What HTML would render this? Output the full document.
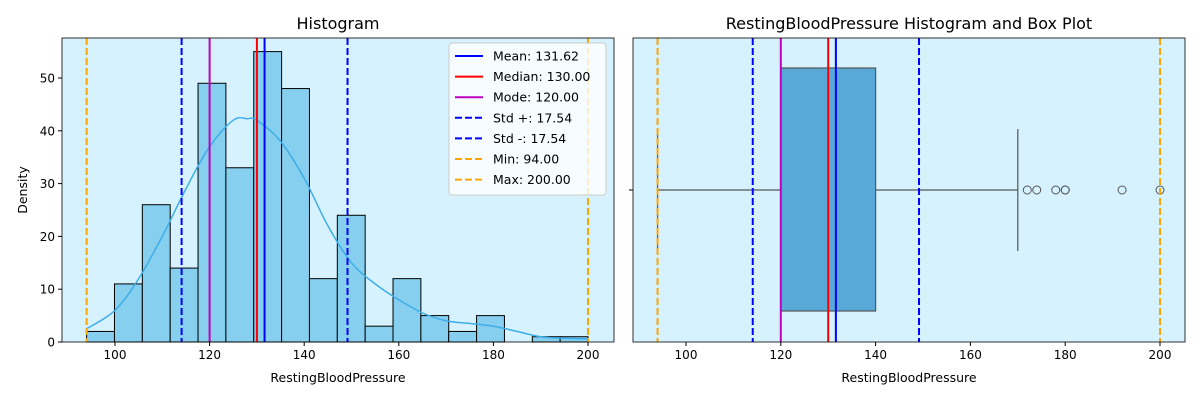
<!DOCTYPE html>
<html><head><meta charset="utf-8">
<style>
body{margin:0;background:#fff;}
svg{font-family:"DejaVu Sans","Liberation Sans",sans-serif;}
</style></head>
<body>
<svg id="chart" width="1200" height="400" xmlns="http://www.w3.org/2000/svg"></svg>
<script>
const binStart = 94;
const binWidth = (200-94)/18;
const binCounts = [2,11,26,14,49,33,55,48,12,24,3,12,5,2,5,0,1,1];
const kdeX = [94,100,105,110,115,120,125,128,130,135,140,145,150,155,160,165,170,175,180,185,190,195,200];
const kdeY = [2.5,6,12,20,29,37,42,42.3,42,38,31,22,15,11,8,5.5,4,3.5,3,2,1,0.7,0.6];
const xTicks = [100,120,140,160,180,200];
const yTicks = [0,10,20,30,40,50];
const statLines = [
 {label:"Mean: 131.62", v:131.62, color:"#0000ff", dash:false},
 {label:"Median: 130.00", v:130, color:"#ff0000", dash:false},
 {label:"Mode: 120.00", v:120, color:"#bf00bf", dash:false},
 {label:"Std +: 17.54", v:149.16, color:"#0000ff", dash:true},
 {label:"Std -: 17.54", v:114.08, color:"#0000ff", dash:true},
 {label:"Min: 94.00", v:94, color:"#ffa500", dash:true},
 {label:"Max: 200.00", v:200, color:"#ffa500", dash:true}
];
const boxStats = {min:94, q1:120, median:130, q3:140, whiskerHi:170};
const outliers = [172,174,178,180,180,192,200];

const NS="http://www.w3.org/2000/svg";
const svg=document.getElementById('chart');
function el(tag,attrs,parent){const e=document.createElementNS(NS,tag);for(const k in attrs)e.setAttribute(k,attrs[k]);(parent||svg).appendChild(e);return e;}
function txt(s,attrs,parent){const e=el('text',attrs,parent);e.textContent=s;return e;}

const L={x0:62,x1:614,y0:38,y1:342};
const lx=v=>115+(v-100)*4.73;
const ly=v=>342-v*5.28;
const R={x0:633,x1:1185,y0:38,y1:342};
const rx=v=>686+(v-100)*4.74;

let g=el('g',{});
let bg=el('rect',{x:L.x0,y:L.y0,width:L.x1-L.x0,height:L.y1-L.y0,fill:"#d6f2fe"},g);

binCounts.forEach((c,i)=>{
  if(c<=0)return;
  const a=binStart+i*binWidth,b=a+binWidth;
  const r=el('rect',{x:lx(a),y:ly(c),width:lx(b)-lx(a),height:ly(0)-ly(c),fill:"#87cfef",stroke:"#000","stroke-width":1},g);
  
});
// smooth curve (Catmull-Rom)
const P=kdeX.map((x,i)=>[lx(x),ly(kdeY[i])]);
let d='M'+P[0][0].toFixed(1)+','+P[0][1].toFixed(1);
for(let i=0;i<P.length-1;i++){
  const p0=P[Math.max(i-1,0)],p1=P[i],p2=P[i+1],p3=P[Math.min(i+2,P.length-1)];
  const c1=[p1[0]+(p2[0]-p0[0])/6,p1[1]+(p2[1]-p0[1])/6];
  const c2=[p2[0]-(p3[0]-p1[0])/6,p2[1]-(p3[1]-p1[1])/6];
  d+=' C'+c1.map(v=>v.toFixed(1)).join(',')+' '+c2.map(v=>v.toFixed(1)).join(',')+' '+p2.map(v=>v.toFixed(1)).join(',');
}
let kde=el('path',{d:d,fill:"none",stroke:"#3daee9","stroke-width":1.5},g);

statLines.forEach(s=>{
  const ln=el('line',{x1:lx(s.v),x2:lx(s.v),y1:L.y0,y2:L.y1,stroke:s.color,"stroke-width":2,"stroke-dasharray":s.dash?"7,3":"none"},g);
  
});
el('rect',{x:L.x0,y:L.y0,width:L.x1-L.x0,height:L.y1-L.y0,fill:"none",stroke:"#000","stroke-width":0.8},g);
xTicks.forEach(t=>{el('line',{x1:lx(t),x2:lx(t),y1:342,y2:346,stroke:"#000"},g);
  const tt=txt(t,{x:lx(t),y:359,"font-size":12,"text-anchor":"middle"},g);});
yTicks.forEach(t=>{el('line',{x1:58,x2:62,y1:ly(t),y2:ly(t),stroke:"#000"},g);
  const tt=txt(t,{x:55,y:ly(t)+4.5,"font-size":12,"text-anchor":"end"},g);});
let t1=txt("Histogram",{x:338,y:29,"font-size":16,"text-anchor":"middle"},g);
let t2=txt("RestingBloodPressure",{x:338,y:382,"font-size":12.5,"text-anchor":"middle"},g);
let t3=txt("Density",{x:27,y:190,"font-size":12.5,"text-anchor":"middle",transform:"rotate(-90 27 190)"},g);
let lg=el('g',{},g);
el('rect',{x:449,y:43,width:157,height:152,rx:3,fill:"#fff","fill-opacity":0.8,stroke:"#ccc"},lg);
statLines.forEach((s,i)=>{
  const y=56+i*20.6;
  el('line',{x1:455,x2:483,y1:y,y2:y,stroke:s.color,"stroke-width":2,"stroke-dasharray":s.dash?"7,3":"none"},lg);
  const e=txt(s.label,{x:493,y:y+4.5,"font-size":12.5},lg);
});

let g2=el('g',{});
let bg2=el('rect',{x:R.x0,y:R.y0,width:R.x1-R.x0,height:R.y1-R.y0,fill:"#d6f2fe"},g2);

const cy=190;
el('line',{x1:rx(boxStats.min),x2:rx(boxStats.q1),y1:cy,y2:cy,stroke:"#555","stroke-width":1.2},g2);
el('line',{x1:rx(boxStats.q3),x2:rx(boxStats.whiskerHi),y1:cy,y2:cy,stroke:"#555","stroke-width":1.2},g2);
el('line',{x1:rx(boxStats.min),x2:rx(boxStats.min),y1:129,y2:251,stroke:"#555","stroke-width":1.2},g2);
el('line',{x1:rx(boxStats.whiskerHi),x2:rx(boxStats.whiskerHi),y1:129,y2:251,stroke:"#555","stroke-width":1.2},g2);
let box=el('rect',{x:rx(boxStats.q1),y:68,width:rx(boxStats.q3)-rx(boxStats.q1),height:243,fill:"#58a9d8",stroke:"#555","stroke-width":1.2},g2);

el('line',{x1:rx(boxStats.median),x2:rx(boxStats.median),y1:68,y2:311,stroke:"#555","stroke-width":1.2},g2);
outliers.forEach(o=>{const c=el('circle',{cx:rx(o),cy:cy,r:4,fill:"none",stroke:"#555","stroke-width":1},g2);
  });
statLines.forEach(s=>{
  const ln=el('line',{x1:rx(s.v),x2:rx(s.v),y1:R.y0,y2:R.y1,stroke:s.color,"stroke-width":2,"stroke-dasharray":s.dash?"7,3":"none"},g2);
  
});
el('rect',{x:R.x0,y:R.y0,width:R.x1-R.x0,height:R.y1-R.y0,fill:"none",stroke:"#000","stroke-width":0.8},g2);
el('line',{x1:629,x2:633,y1:cy,y2:cy,stroke:"#000"},g2);
xTicks.forEach(t=>{el('line',{x1:rx(t),x2:rx(t),y1:342,y2:346,stroke:"#000"},g2);
  const tt=txt(t,{x:rx(t),y:359,"font-size":12,"text-anchor":"middle"},g2);});
let t4=txt("RestingBloodPressure Histogram and Box Plot",{x:909,y:29,"font-size":16,"text-anchor":"middle"},g2);
let t5=txt("RestingBloodPressure",{x:909,y:382,"font-size":12.5,"text-anchor":"middle"},g2);
</script>
</body></html>
